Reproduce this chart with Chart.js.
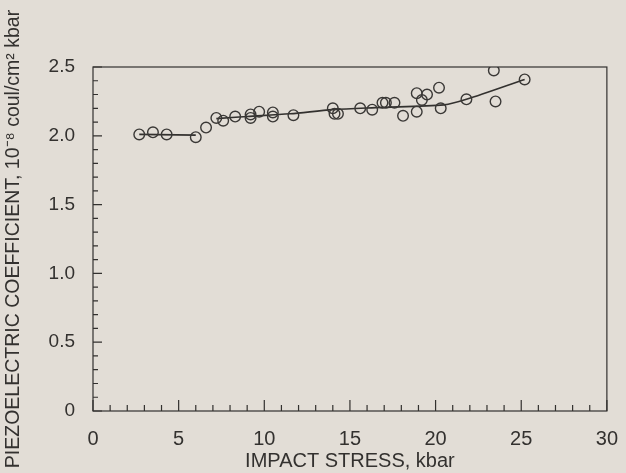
<!DOCTYPE html>
<html lang="en">
<head>
    <meta charset="UTF-8">
    <title>Piezoelectric Coefficient vs Impact Stress</title>
    <script src="https://cdn.jsdelivr.net/npm/chart.js"></script>
    <style>
        body { margin: 0; background: #e2ddd6; }
        #wrap { width: 626px; height: 473px; }
    </style>
</head>
<body>
    <div id="wrap"><canvas id="chart" width="626" height="473"></canvas></div>

    <script>
        // measured points (impact stress kbar, coefficient)
        const stress = [2.7, 3.5, 4.3, 6.0, 6.6, 7.2, 7.6, 8.3, 9.2, 9.2, 9.7, 10.5, 10.5, 11.7,
                        14.0, 14.1, 14.3, 15.6, 16.3, 16.9, 17.1, 17.6, 18.1, 18.9, 18.9, 19.2,
                        19.5, 20.2, 20.3, 21.8, 23.4, 23.5, 25.2];
        const coeff  = [2.01, 2.025, 2.01, 1.99, 2.06, 2.13, 2.11, 2.14, 2.155, 2.13, 2.175, 2.17, 2.14, 2.15,
                        2.2, 2.16, 2.16, 2.2, 2.19, 2.24, 2.24, 2.24, 2.145, 2.31, 2.175, 2.26,
                        2.3, 2.35, 2.2, 2.265, 2.475, 2.25, 2.41];

        // fitted curves drawn by hand on the original
        const lowX  = [2.7, 6.0];
        const lowY  = [2.01, 2.005];
        const highX = [7.2, 9.0, 11.5, 14.0, 16.5, 20.5, 21.8, 25.2];
        const highY = [2.125, 2.14, 2.16, 2.19, 2.205, 2.225, 2.265, 2.41];

        const xTicks = [0, 5, 10, 15, 20, 25, 30];
        const yTicks = [0, 0.5, 1.0, 1.5, 2.0, 2.5];

        const ink = '#33312f';

        function pairs(xs, ys) {
            return xs.map((x, i) => ({ x: x, y: ys[i] }));
        }

        // box around the plot plus inward tick marks
        const frame = {
            id: 'frame',
            afterDraw(chart) {
                const { ctx, chartArea: a, scales } = chart;
                ctx.save();
                ctx.strokeStyle = ink;
                ctx.lineWidth = 1.2;
                ctx.strokeRect(a.left, a.top, a.right - a.left, a.bottom - a.top);
                ctx.beginPath();
                for (let v = 0; v <= 30; v++) {
                    const px = scales.x.getPixelForValue(v);
                    const len = v % 5 === 0 ? 11 : 6;
                    ctx.moveTo(px, a.bottom);
                    ctx.lineTo(px, a.bottom - len);
                }
                for (let k = 0; k <= 25; k++) {
                    const py = scales.y.getPixelForValue(k / 10);
                    const len = k % 5 === 0 ? 9 : 5;
                    ctx.moveTo(a.left, py);
                    ctx.lineTo(a.left + len, py);
                }
                ctx.stroke();
                ctx.restore();
            }
        };

        new Chart(document.getElementById('chart'), {
            type: 'scatter',
            data: {
                datasets: [
                    {
                        data: pairs(stress, coeff),
                        showLine: false,
                        pointRadius: 5.3,
                        pointBackgroundColor: 'rgba(0,0,0,0)',
                        pointBorderColor: '#3a3836',
                        pointBorderWidth: 1.4
                    },
                    {
                        data: pairs(lowX, lowY),
                        showLine: true,
                        pointRadius: 0,
                        borderColor: ink,
                        borderWidth: 1.6
                    },
                    {
                        data: pairs(highX, highY),
                        showLine: true,
                        tension: 0.3,
                        pointRadius: 0,
                        borderColor: ink,
                        borderWidth: 1.6
                    }
                ]
            },
            options: {
                responsive: false,
                animation: false,
                layout: { padding: { top: 67, right: 15, left: 0, bottom: 0 } },
                plugins: { legend: { display: false }, tooltip: { enabled: false } },
                scales: {
                    x: {
                        type: 'linear',
                        min: 0,
                        max: 30,
                        afterBuildTicks: s => { s.ticks = xTicks.map(v => ({ value: v })); },
                        afterFit: s => { s.height = 62; },
                        grid: { display: false },
                        border: { display: false },
                        ticks: { color: ink, padding: 8, font: { family: 'Liberation Sans', size: 20 } },
                        title: {
                            display: true,
                            text: 'IMPACT STRESS, kbar',
                            color: ink,
                            padding: { top: 0, bottom: 0 },
                            font: { family: 'Liberation Sans', size: 20 }
                        }
                    },
                    y: {
                        min: 0,
                        max: 2.5,
                        afterBuildTicks: s => { s.ticks = yTicks.map(v => ({ value: v })); },
                        afterFit: s => { s.width = 93; },
                        grid: { display: false },
                        border: { display: false },
                        ticks: {
                            color: ink,
                            padding: 10,
                            font: { family: 'Liberation Sans', size: 19 },
                            callback: v => v === 0 ? '0' : v.toFixed(1)
                        },
                        title: {
                            display: true,
                            text: 'PIEZOELECTRIC COEFFICIENT, 10\u207B\u2078 coul/cm\u00B2 kbar',
                            color: ink,
                            padding: { top: 2, bottom: 2 },
                            font: { family: 'Liberation Sans', size: 19.5 }
                        }
                    }
                }
            },
            plugins: [frame]
        });
    </script>
</body>
</html>
